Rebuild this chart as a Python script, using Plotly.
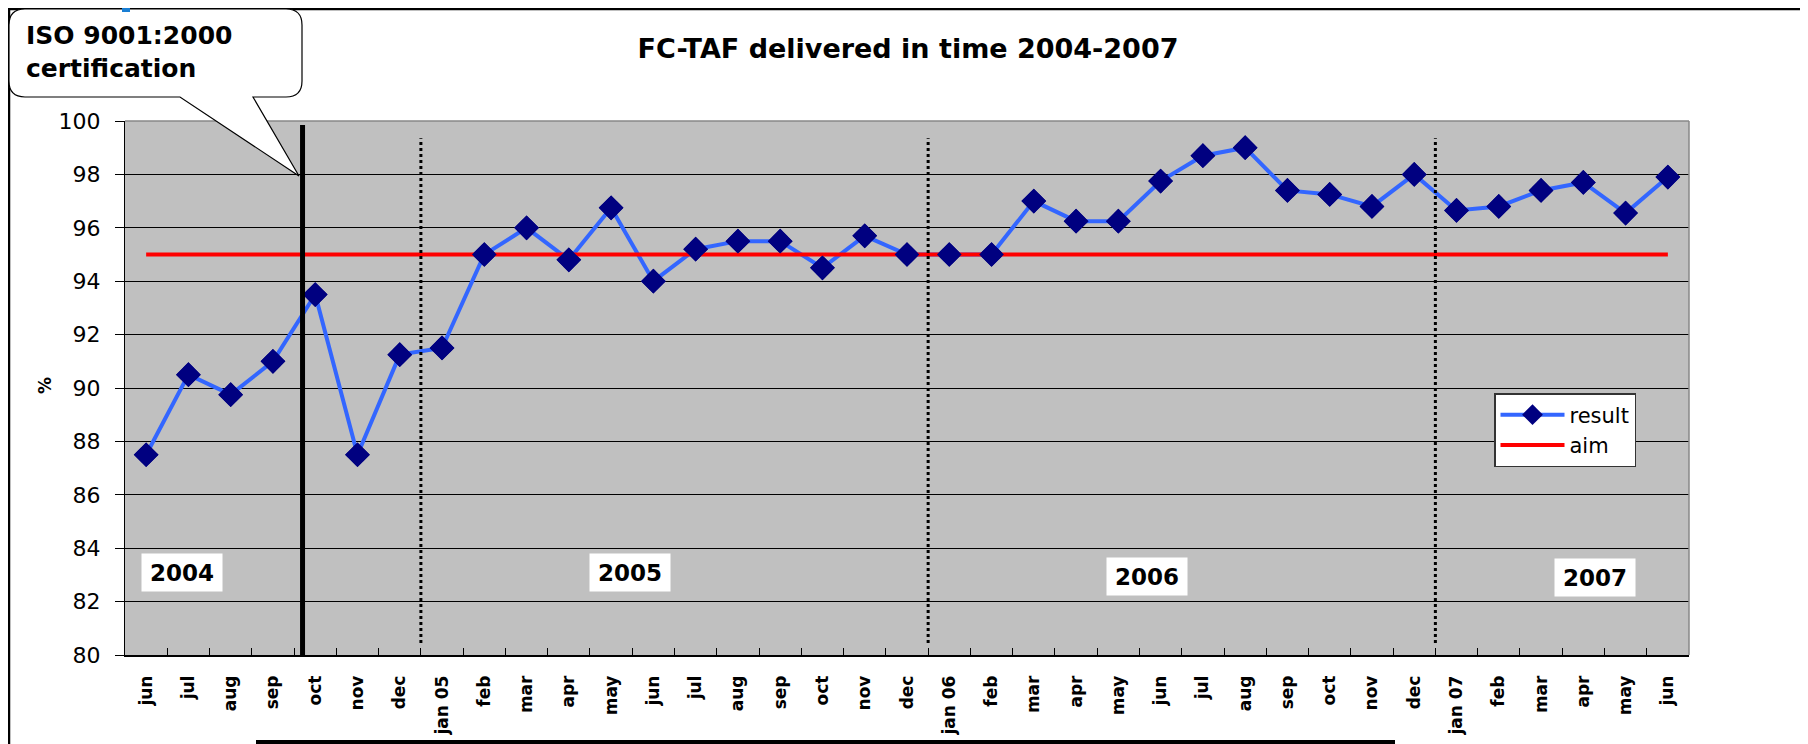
import plotly.graph_objects as go

# ---------------- data ----------------
months = ["jun", "jul", "aug", "sep", "oct", "nov", "dec",
          "jan 05", "feb", "mar", "apr", "may", "jun", "jul", "aug", "sep", "oct", "nov", "dec",
          "jan 06", "feb", "mar", "apr", "may", "jun", "jul", "aug", "sep", "oct", "nov", "dec",
          "jan 07", "feb", "mar", "apr", "may", "jun"]
result = [87.5, 90.5, 89.75, 91.0, 93.5, 87.5, 91.25,
          91.5, 95.0, 96.0, 94.8, 96.75, 94.0, 95.2, 95.5, 95.5, 94.5, 95.7, 95.0,
          95.0, 95.0, 97.0, 96.25, 96.25, 97.75, 98.7, 99.0, 97.4, 97.25, 96.8, 98.0,
          96.65, 96.8, 97.4, 97.7, 96.55, 97.9]
aim = [95, 95, 95, 95, 95, 95, 95,
       95, 95, 95, 95, 95, 95, 95, 95, 95, 95, 95, 95,
       95, 95, 95, 95, 95, 95, 95, 95, 95, 95, 95, 95,
       95, 95, 95, 95, 95, 95]
year_labels = ["2004", "2005", "2006", "2007"]
year_label_pos = [(0.84, 83.1), (11.45, 83.1), (23.68, 82.95), (34.28, 82.92)]
year_breaks = [6.5, 18.5, 30.5]      # dotted separators (between dec and jan)
certification_pos = 3.7              # solid line (ISO certification)
y_ticks = [80, 82, 84, 86, 88, 90, 92, 94, 96, 98, 100]

x_idx = list(range(len(months)))
boundaries = [i - 0.5 for i in range(len(months) + 1)]

# ---------------- geometry (px, in screen coordinates) ----------------
OFF = 8                      # page body margin
W, H = 1808 - OFF, 744 - OFF
PL, PR, PT, PB = 125, 1689, 121, 655
FONT = "DejaVu Sans, Liberation Sans, Arial, sans-serif"


def px_x(X):
    return (X - PL) / (PR - PL)


def px_y(Y):
    return (PB - Y) / (PB - PT)


MARK = dict(symbol="diamond", size=19, color="#000080", line=dict(width=0))

fig = go.Figure()
fig.add_trace(go.Scatter(
    x=x_idx, y=result, name="result", mode="lines+markers",
    line=dict(color="#3366FF", width=4), marker=MARK,
))
fig.add_trace(go.Scatter(
    x=x_idx, y=aim, name="aim", mode="lines", xaxis="x2",
    line=dict(color="#FF0000", width=4),
))
fig.add_trace(go.Scatter(
    x=x_idx, y=result, mode="markers", xaxis="x2", showlegend=False, hoverinfo="skip",
    marker=MARK,
))

shapes = []
shapes.append(dict(type="line", xref="x", yref="y", x0=certification_pos, x1=certification_pos,
                   y0=79.9, y1=99.85, line=dict(color="black", width=5), layer="above"))
for xb in year_breaks:
    shapes.append(dict(type="line", xref="x", yref="y", x0=xb, x1=xb, y0=80.45, y1=99.35,
                       line=dict(color="black", width=3, dash="dot"), layer="above"))
shapes.append(dict(type="line", xref="paper", yref="paper", x0=0, x1=1, y0=1, y1=1,
                   line=dict(color="#888888", width=1.5)))
shapes.append(dict(type="line", xref="paper", yref="paper", x0=1, x1=1, y0=0, y1=1,
                   line=dict(color="#888888", width=1.5)))
# outer frame
shapes.append(dict(type="rect", xref="paper", yref="paper",
                   x0=px_x(9), x1=px_x(1805), y0=px_y(770), y1=px_y(9),
                   line=dict(color="black", width=2.5), fillcolor="rgba(0,0,0,0)"))
# callout bubble
L, R, T, B, r = 9, 302, 9, 97, 16
tip = (299, 176)
pts = [("M", (L + r, T)), ("L", (R - r, T)), ("Q", (R, T), (R, T + r)), ("L", (R, B - r)),
       ("Q", (R, B), (R - r, B)), ("L", (253, B)), ("L", tip), ("L", (180, B)),
       ("L", (L + r, B)), ("Q", (L, B), (L, B - r)), ("L", (L, T + r)), ("Q", (L, T), (L + r, T))]
path = ""
for item in pts:
    coords = " ".join(f"{px_x(p[0]):.5f},{px_y(p[1]):.5f}" for p in item[1:])
    path += f"{item[0]}{coords} "
path += "Z"
shapes.append(dict(type="path", xref="paper", yref="paper", path=path,
                   fillcolor="white", line=dict(color="black", width=1.2)))
shapes.append(dict(type="rect", xref="paper", yref="paper",
                   x0=px_x(256), x1=px_x(1395), y0=px_y(760), y1=px_y(740),
                   fillcolor="black", line=dict(width=0)))
shapes.append(dict(type="rect", xref="paper", yref="paper",
                   x0=px_x(122), x1=px_x(130), y0=px_y(12), y1=px_y(-5),
                   fillcolor="#1a7fd4", line=dict(width=0)))

annotations = []
for txt, (ax, ay) in zip(year_labels, year_label_pos):
    annotations.append(dict(text=f"<b>{txt}</b>", x=ax, y=ay, xref="x", yref="y",
                            showarrow=False, bgcolor="white", borderpad=4, width=72, height=29,
                            font=dict(family=FONT, size=23, color="black")))
annotations.append(dict(text="<b>ISO 9001:2000<br>certification</b>", x=px_x(24), y=px_y(52),
                        xref="paper", yref="paper", xanchor="left", yanchor="middle", align="left",
                        showarrow=False, font=dict(family=FONT, size=25, color="black")))
annotations.append(dict(text="<b>%</b>", x=px_x(33), y=px_y(386), xref="paper", yref="paper",
                        textangle=-90, showarrow=False, font=dict(family=FONT, size=17, color="black")))

fig.update_layout(
    width=W, height=H,
    margin=dict(l=PL - OFF, r=W - (PR - OFF), t=PT - OFF, b=H - (PB - OFF), pad=0),
    paper_bgcolor="white", plot_bgcolor="#C0C0C0",
    title=dict(text="<b>FC-TAF delivered in time 2004-2007</b>", x=(908 - OFF) / W, xref="container",
               xanchor="center", y=1 - (49 - OFF) / H, yanchor="middle",
               font=dict(family=FONT, size=27, color="black")),
    xaxis=dict(range=[-0.5, len(months) - 0.5], tickmode="array", tickvals=x_idx, ticktext=months,
               tickangle=-90, ticks="", showgrid=False, zeroline=False, automargin=False,
               showline=True, linecolor="black", linewidth=1.5, ticklabelstandoff=12,
               tickfont=dict(family=FONT, size=17, color="black", weight="bold")),
    xaxis2=dict(range=[-0.5, len(months) - 0.5], overlaying="x", anchor="y", side="bottom",
                tickmode="array", tickvals=boundaries, ticks="inside", ticklen=7,
                tickcolor="black", tickwidth=1, showticklabels=False, showgrid=False,
                zeroline=False, showline=False, automargin=False),
    yaxis=dict(range=[80, 100], tickmode="array", tickvals=y_ticks, ticks="outside", ticklen=9,
               tickcolor="black", showgrid=True, gridcolor="black", gridwidth=1, zeroline=False,
               showline=True, linecolor="black", linewidth=1, ticklabelstandoff=10, automargin=False,
               tickfont=dict(family=FONT, size=22, color="black")),
    legend=dict(x=px_x(1494), y=px_y(393), xanchor="left", yanchor="top",
                bgcolor="white", bordercolor="#333333", borderwidth=1.5,
                font=dict(family=FONT, size=21, color="black"), itemwidth=64,
                tracegroupgap=0),
    shapes=shapes, annotations=annotations, showlegend=True,
)

fig.write_html("out.html")
